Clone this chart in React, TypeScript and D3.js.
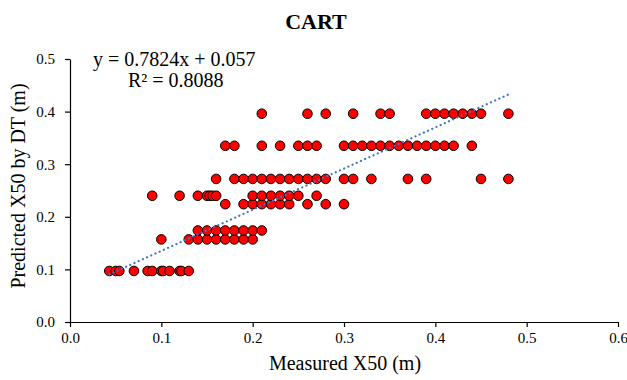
import React, { useEffect, useRef } from "react";
import * as d3 from "d3";

// measured X50 values, grouped by the discrete CART prediction they got
const predictedLevels = [0.097, 0.157, 0.174, 0.224, 0.24, 0.272, 0.335, 0.396];

const measured097 = [0.043, 0.05, 0.054, 0.07, 0.085, 0.09, 0.1, 0.102, 0.109, 0.12, 0.122, 0.13];
const measured157 = [0.1, 0.13, 0.14, 0.15, 0.16, 0.17, 0.18, 0.19, 0.2];
const measured174 = [0.14, 0.15, 0.16, 0.17, 0.18, 0.19, 0.2, 0.21];
const measured224 = [0.17, 0.19, 0.2, 0.21, 0.22, 0.23, 0.24, 0.26, 0.28, 0.3];
const measured240 = [0.09, 0.12, 0.14, 0.15, 0.153, 0.156, 0.16, 0.2, 0.21, 0.22, 0.23, 0.24, 0.25, 0.27];
const measured272 = [
  0.16, 0.18, 0.19, 0.2, 0.21, 0.22, 0.23, 0.24, 0.25, 0.26, 0.27, 0.28, 0.3, 0.31, 0.33, 0.37, 0.39, 0.45, 0.48,
];
const measured335 = [
  0.17, 0.18, 0.21, 0.23, 0.25, 0.26, 0.27, 0.3, 0.31, 0.32, 0.33, 0.34, 0.35, 0.36, 0.37, 0.38, 0.39, 0.4, 0.41,
  0.42, 0.44,
];
const measured396 = [0.21, 0.26, 0.28, 0.31, 0.34, 0.35, 0.39, 0.4, 0.41, 0.42, 0.43, 0.44, 0.45, 0.48];

const xTicks = [0, 0.1, 0.2, 0.3, 0.4, 0.5, 0.6];
const yTicks = [0, 0.1, 0.2, 0.3, 0.4, 0.5];

// linear trendline (from Excel)
const slope = 0.7824;
const intercept = 0.057;
const rSquared = 0.8088;

const CartChart: React.FC = () => {
  const svgRef = useRef<SVGSVGElement | null>(null);

  useEffect(() => {
    const groups = [
      measured097,
      measured157,
      measured174,
      measured224,
      measured240,
      measured272,
      measured335,
      measured396,
    ];
    const data = groups.flatMap((xs, i) => xs.map((x) => ({ x, y: predictedLevels[i] })));

    const width = 627;
    const height = 380;
    const margin = { top: 59, right: 9, bottom: 58, left: 70 };
    const font = "'Liberation Serif', 'Times New Roman', serif";

    const xScale = d3
      .scaleLinear()
      .domain([0, 0.6])
      .range([margin.left, width - margin.right]);

    const yScale = d3
      .scaleLinear()
      .domain([0, 0.5])
      .range([height - margin.bottom, margin.top]);

    const svg = d3.select(svgRef.current);
    svg.selectAll("*").remove();

    // Title
    svg
      .append("text")
      .attr("x", 316)
      .attr("y", 29)
      .attr("text-anchor", "middle")
      .style("font-family", font)
      .style("font-size", "22px")
      .style("font-weight", "bold")
      .text("CART");

    // x axis
    const xAxis = svg
      .append("g")
      .attr("transform", `translate(0, ${yScale(0)})`)
      .call(
        d3
          .axisBottom(xScale)
          .tickValues(xTicks)
          .tickSize(5)
          .tickSizeOuter(0)
          .tickPadding(5)
          .tickFormat(d3.format(".1f"))
      );

    // y axis
    const yAxis = svg
      .append("g")
      .attr("transform", `translate(${xScale(0)},0)`)
      .call(
        d3
          .axisLeft(yScale)
          .tickValues(yTicks)
          .tickSize(5)
          .tickSizeOuter(0)
          .tickPadding(10)
          .tickFormat(d3.format(".1f"))
      );

    [xAxis, yAxis].forEach((ax) => {
      ax.selectAll("text").style("font-family", font).style("font-size", "15px").attr("fill", "#000");
      ax.selectAll("line, path").attr("stroke", "#000").attr("stroke-width", 1.2);
    });

    // points
    svg
      .append("g")
      .selectAll("circle")
      .data(data)
      .enter()
      .append("circle")
      .attr("cx", (d) => xScale(d.x))
      .attr("cy", (d) => yScale(d.y))
      .attr("r", 4.8)
      .attr("fill", "#ff0000")
      .attr("stroke", "#000")
      .attr("stroke-width", 1);

    // trendline, spans the measured range
    const [xMin, xMax] = d3.extent(data, (d) => d.x) as [number, number];
    const line = d3
      .line<number>()
      .x((x) => xScale(x))
      .y((x) => yScale(slope * x + intercept));
    svg
      .append("path")
      .datum([xMin, xMax])
      .attr("d", line)
      .attr("fill", "none")
      .attr("stroke", "#4472c4")
      .attr("stroke-width", 2.2)
      .attr("stroke-linecap", "round")
      .attr("stroke-dasharray", "0.1,4.5");

    // equation
    svg
      .append("text")
      .attr("x", 93)
      .attr("y", 66)
      .style("font-family", font)
      .style("font-size", "20px")
      .text(`y = ${slope}x + ${intercept}`);
    svg
      .append("text")
      .attr("x", 128)
      .attr("y", 87)
      .style("font-family", font)
      .style("font-size", "20px")
      .text(`R² = ${rSquared}`);

    // x axis label
    svg
      .append("text")
      .attr("x", 345)
      .attr("y", 370)
      .attr("text-anchor", "middle")
      .style("font-family", font)
      .style("font-size", "20px")
      .text("Measured X50 (m)");

    // y axis label
    svg
      .append("text")
      .attr("transform", "rotate(-90)")
      .attr("x", -186)
      .attr("y", 25)
      .attr("text-anchor", "middle")
      .style("font-family", font)
      .style("font-size", "20px")
      .text("Predicted X50 by DT (m)");
  }, []);

  return (
    <div style={{ position: "absolute", left: 0, top: 0 }}>
      <svg ref={svgRef} width={627} height={380} style={{ display: "block", background: "#fff" }}></svg>
    </div>
  );
};

export default function App() {
  return <CartChart />;
}
